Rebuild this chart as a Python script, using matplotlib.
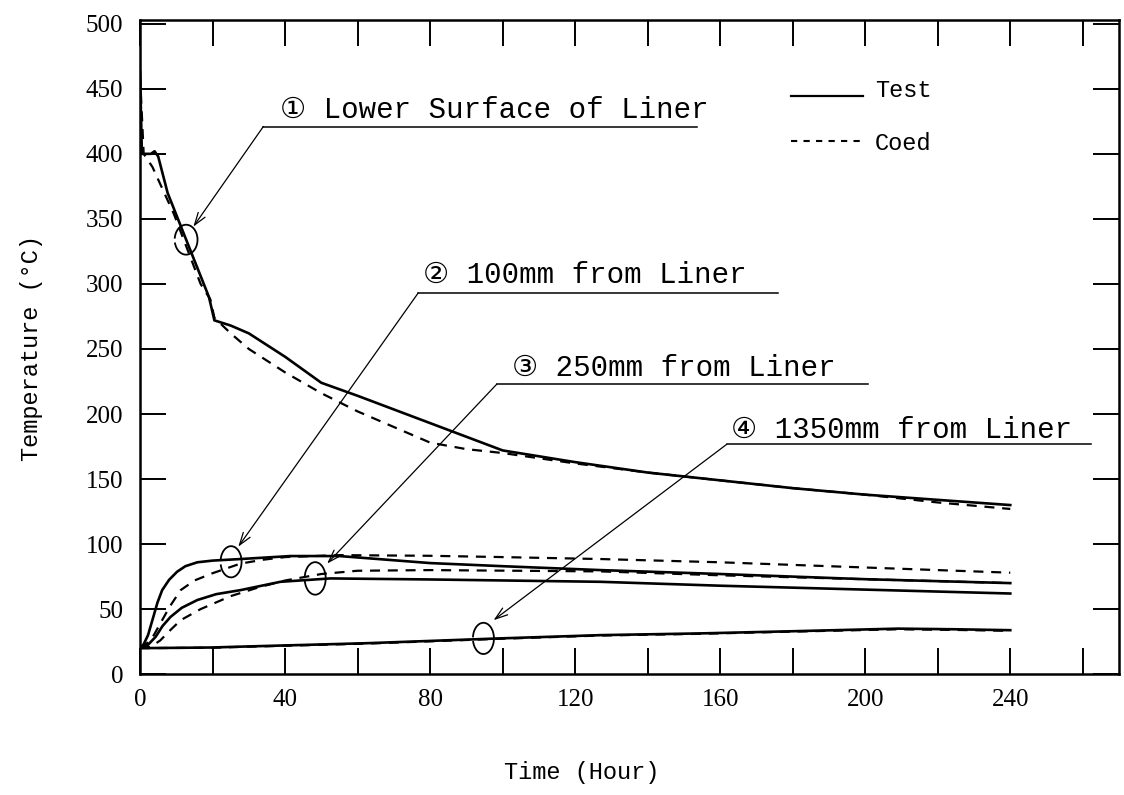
import matplotlib
matplotlib.use("Agg")
import matplotlib.pyplot as plt
from matplotlib.patches import Arc

plt.rcParams['font.family'] = ['Liberation Serif', 'DejaVu Serif', 'DejaVu Sans', 'Noto Sans CJK JP']
WIDE = ['Liberation Mono', 'DejaVu Sans', 'Noto Sans CJK JP']

# ① lower surface of liner
t1_test = [0, 0.5, 3, 4, 5, 7.6, 14, 19, 20.5, 25, 30, 40, 50, 60, 80, 100, 120, 140, 160, 180, 200, 220, 240]
T1_test = [463, 400, 400, 402, 398, 370, 325, 290, 272, 268, 262, 244, 224, 214, 193, 172, 163, 155, 149, 143, 138, 134, 130]
t1_code = [0, 1, 3.4, 9.3, 16.7, 19.4, 20.5, 25, 30, 40, 50, 60, 70, 80, 90, 100, 120, 140, 160, 180, 200, 220, 240]
T1_code = [460, 400, 390, 354, 300, 288, 274, 262, 250, 232, 216, 202, 190, 178, 173, 170, 162, 155, 149, 143, 138, 132, 127]

# ② 100mm from liner
t2_test = [0, 1, 2.2, 3.4, 4.8, 6.1, 8, 10.2, 12.5, 15.8, 20, 27.7, 41.5, 55, 80, 100, 127, 160, 200, 240]
T2_test = [20, 23, 30, 41.5, 55, 64.6, 72.5, 78.7, 83, 86, 87.3, 88.5, 90.8, 90.8, 85.4, 83, 80, 77, 73, 70]
t2_code = [0, 2, 3.8, 5.6, 8.2, 11.2, 15, 20, 27.7, 34, 40, 55, 80, 100, 127, 160, 200, 240]
T2_code = [20, 24, 30, 39, 52, 64.6, 72, 77.6, 85, 88, 90, 91.5, 91, 90, 88.5, 86, 82, 78]

# ③ 250mm from liner
t3_test = [0, 2, 4.3, 6.2, 8.4, 11.5, 15.8, 21, 27.7, 38.7, 52.5, 80, 127, 160, 200, 240]
T3_test = [20, 22, 28.7, 37, 44, 51, 57, 61.5, 64.6, 71, 73.6, 72.8, 71, 68, 65, 62]
t3_code = [0, 3, 5.6, 8.4, 11.2, 16.7, 25, 33, 40, 50, 60, 80, 127, 160, 200, 240]
T3_code = [20, 21, 26, 34, 41.5, 50, 60, 67, 72, 77, 79.5, 80, 79, 76, 73, 70]

# ④ 1350mm from liner
t4_test = [0, 20, 25.8, 62.6, 99.3, 127, 154, 180, 209, 225, 240]
T4_test = [20, 20.5, 21, 23.8, 27.5, 30, 31.3, 33, 35, 34.5, 33.8]
t4_code = [0, 20, 25.8, 62.6, 99.3, 127, 154, 180, 209, 225, 240]
T4_code = [20, 20.3, 20.8, 23.5, 27.2, 29.7, 31, 32.7, 34.5, 34, 33.3]

labels = ['\u2460 Lower Surface of Liner', '\u2461 100mm from Liner',
          '\u2462 250mm from Liner', '\u2463 1350mm from Liner']

fig = plt.figure(figsize=(11.24, 7.95), dpi=100)
ax = fig.add_axes([0.1246, 0.152, 0.8710, 0.823])

dash = (0, (4.5, 3.5))
for t, T in [(t1_test, T1_test), (t2_test, T2_test), (t3_test, T3_test), (t4_test, T4_test)]:
    ax.plot(t, T, color='black', lw=1.9, solid_joinstyle='round')
for t, T in [(t1_code, T1_code), (t2_code, T2_code), (t3_code, T3_code), (t4_code, T4_code)]:
    ax.plot(t, T, color='black', lw=1.6, linestyle=dash)

# callouts: text, underline, leader with open arrow head, ellipse on the curve
callouts = [
    # text x, baseline y, underline x0, x1, y, arrow tip, ellipse centre, ellipse w, h
    (38.7, 428, 34, 153.6, 421, (14.7, 344), (12.7, 334), 6.3, 23),
    (78, 301, 76.7, 175.9, 293, (27.1, 98), (25.1, 86.4), 5.8, 24),
    (102.5, 229, 98.4, 200.7, 223, (51.6, 85), (48.3, 73.6), 5.8, 25),
    (163, 181.5, 161.8, 262.4, 176.7, (97.5, 41.5), (94.7, 27.5), 5.8, 24),
]
for lab, (tx, ty, ux0, ux1, uy, tip, ctr, ew, eh) in zip(labels, callouts):
    ax.text(tx, ty, lab, fontsize=21, va='baseline', ha='left', family=WIDE)
    ax.plot([ux0, ux1], [uy, uy], color='black', lw=1.1, clip_on=False)
    ax.annotate('', xy=tip, xytext=(ux0, uy),
                arrowprops=dict(arrowstyle='->,head_length=0.9,head_width=0.3',
                                color='black', lw=0.9, shrinkA=0, shrinkB=0))
    ax.add_patch(Arc(ctr, ew, eh, theta1=215, theta2=165, color='black', lw=1.3))

# key
ax.plot([179.4, 199.3], [444.5, 444.5], color='black', lw=1.6)
ax.text(202.6, 443.5, 'Test', fontsize=17, va='baseline', family=WIDE)
ax.plot([179.4, 199.3], [409.5, 409.5], color='black', lw=1.5, linestyle=(0, (3, 3)))
ax.text(202.6, 403, 'Coed', fontsize=17, va='baseline', family=WIDE)

ax.set_xlim(0, 270)
ax.set_ylim(0, 503)
ax.set_xticks(range(0, 241, 40))
ax.set_xticks(range(0, 270, 20), minor=True)
ax.set_yticks(range(0, 501, 50))
ax.tick_params(which='both', direction='in', length=19, width=1.4,
               top=True, right=True, labelsize=18)
ax.tick_params(axis='x', which='both', pad=11)
ax.tick_params(axis='y', pad=12)
for s in ax.spines.values():
    s.set_linewidth(1.8)

fig.text(32 / 1124, 1 - 348 / 795, 'Temperature (\u00b0C)', rotation=90,
         ha='center', va='center', fontsize=17, family=WIDE)
fig.text(582 / 1124, 1 - 773 / 795, 'Time (Hour)', ha='center', va='center',
         fontsize=17, family=WIDE)

fig.savefig('out.png', dpi=100)
